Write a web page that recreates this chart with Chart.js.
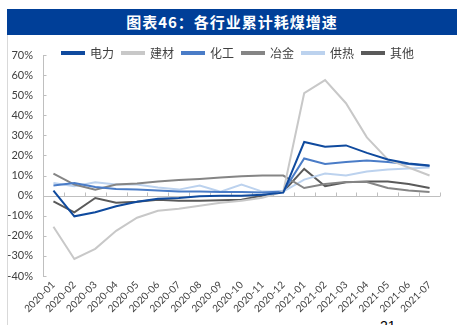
<!DOCTYPE html>
<html>
<head>
<meta charset="utf-8">
<script src="https://cdn.jsdelivr.net/npm/chart.js@4/dist/chart.umd.min.js"></script>
<style>
  html,body{margin:0;padding:0;background:#fff;width:462px;height:325px;overflow:hidden;position:relative;font-family:"Noto Sans CJK SC",sans-serif;}
  #title{position:absolute;left:7px;top:9px;width:450px;height:26px;background:#003f98;color:#fff;font-weight:bold;font-size:15px;line-height:26px;text-align:center;letter-spacing:1px;font-family:"Noto Sans CJK SC",sans-serif;}
  #vline{position:absolute;left:7px;top:35px;width:1px;height:290px;background:#d9d9d9;}
  #page{position:absolute;left:380px;top:318px;font-size:14px;line-height:16px;color:#000;font-family:"Liberation Sans",sans-serif;}
  #wrap{position:absolute;left:0;top:35px;width:462px;height:290px;}
</style>
</head>
<body>
<div id="title">图表46：各行业累计耗煤增速</div>
<div id="vline"></div>
<div id="page">21</div>
<div id="wrap"><canvas id="c" width="462" height="290"></canvas></div>
<script>
const categories = ['2020-01','2020-02','2020-03','2020-04','2020-05','2020-06','2020-07','2020-08','2020-09','2020-10','2020-11','2020-12','2021-01','2021-02','2021-03','2021-04','2021-05','2021-06','2021-07'];
const power     = [2.5, -10.3, -8.3, -5.3, -3, -1.5, -1.2, -0.3, 0, 0, 0.5, 1.5, 26.7, 24.3, 25, 21.3, 18, 16, 15];
const building  = [-15.5, -31.5, -26.5, -17.5, -11, -7.5, -6.5, -5, -3.5, -2.5, -1, 2, 51, 57.5, 46, 29, 18, 14, 10];
const chemical  = [5, 6.3, 4.3, 3.3, 3, 2.5, 2, 2, 1.8, 1.8, 1.5, 2, 18.5, 15.8, 16.8, 17.5, 16.7, 15.8, 14.7];
const metallurgy= [11, 5.5, 3, 5.5, 6, 7, 7.8, 8.3, 9, 9.7, 10, 10, 3.8, 5.8, 6.8, 6.8, 3.8, 2.5, 1.8];
const heating   = [6.3, 4.7, 6.7, 5.5, 5.5, 4, 3, 5, 2, 5.5, 2, 2, 8, 11, 10, 12, 13, 13.5, 14];
const others    = [-2.8, -8.3, -1.2, -3.5, -3, -2, -2.5, -2.5, -2.3, -2, 0, 2, 13.3, 4.7, 6.7, 7, 7, 5.8, 3.8];
const seriesNames = ['电力','建材','化工','冶金','供热','其他'];
const yTickMin = -40, yTickMax = 70, yTickStep = 10;

const colors = ['#0f4a9e','#c8c8c8','#4a7cc7','#858585','#bcd2ee','#5a5a5a'];
const seriesData = [power, building, chemical, metallurgy, heating, others];

const zeroAxis = {
  id:'zeroAxis',
  beforeDatasetsDraw(chart){
    const {ctx, chartArea:a, scales:{x,y}} = chart;
    const y0 = Math.round(y.getPixelForValue(0)) + 0.5;
    ctx.save();
    ctx.strokeStyle = '#bfbfbf';
    ctx.lineWidth = 1;
    ctx.beginPath();
    ctx.moveTo(a.left, y0); ctx.lineTo(a.right, y0);
    const n = categories.length;
    const step = (a.right - a.left) / n;
    for (let i = 1; i <= n; i++) {
      const px = Math.round(x.getPixelForValue(i - 1) + step / 2) + 0.5;
      ctx.moveTo(px, y0); ctx.lineTo(px, y0 - 4);
    }
    const lx = Math.round(a.left) + 0.5;
    y.ticks.forEach(t => {
      const py = Math.round(y.getPixelForValue(t.value)) + 0.5;
      ctx.moveTo(lx, py); ctx.lineTo(lx + 3, py);
    });
    ctx.stroke();
    ctx.restore();
  }
};
const legendFit = {
  id:'legendFit',
  beforeInit(chart){
    const lg = chart.legend;
    if (!lg) return;
    const orig = lg.fit;
    lg.fit = function(){ orig.call(this); this.height = 16; };
  },
  beforeDraw(chart){
    const lg = chart.legend;
    if (lg) { lg.left = 36; lg.right = chart.chartArea.right; lg.bottom = lg.top + 30; }
  }
};

new Chart(document.getElementById('c'), {
  type:'line',
  data:{
    labels: categories,
    datasets: seriesNames.map((n,i)=>({
      label:n, data:seriesData[i], borderColor:colors[i], backgroundColor:colors[i],
      borderWidth:2, pointRadius:0, tension:0, fill:false
    }))
  },
  options:{
    responsive:false, devicePixelRatio:1, animation:false,
    layout:{padding:{left:0,right:22,top:4,bottom:0}},
    plugins:{
      legend:{
        position:'top',
        labels:{boxWidth:22, boxHeight:2, padding:8, color:'#404040',
          font:{size:12, family:'"Noto Sans CJK SC", sans-serif'}}
      },
      tooltip:{enabled:false}
    },
    scales:{
      x:{
        offset:true,
        grid:{display:false, drawTicks:false},
        border:{display:false},
        ticks:{autoSkip:false, maxRotation:45, minRotation:45, padding:3, color:'#404040',
          font:{size:10, family:'Lato, "Liberation Sans", sans-serif'}},
        afterFit(s){ s.height = 49; }
      },
      y:{
        min:yTickMin, max:yTickMax,
        grid:{display:false, drawTicks:false},
        border:{display:true, color:'#bfbfbf', width:1},
        ticks:{stepSize:yTickStep, padding:10, color:'#404040',
          font:{size:11, family:'Lato, "Liberation Sans", sans-serif'},
          callback:v=>v+'%'},
        afterFit(s){ s.width = 43; }
      }
    }
  },
  plugins:[legendFit, zeroAxis]
});
</script>
</body>
</html>
